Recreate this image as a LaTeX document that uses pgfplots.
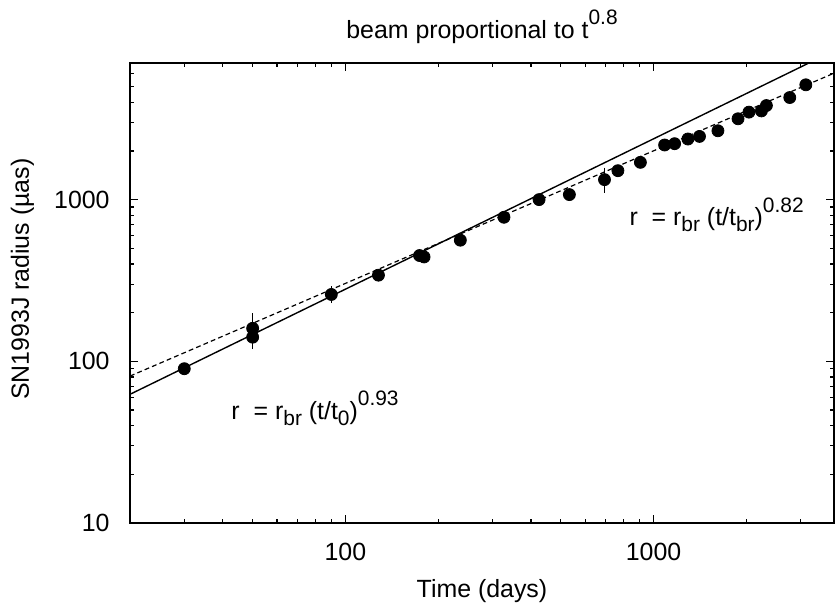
\documentclass[border=0pt]{standalone}
\usepackage{fontspec}
\setmainfont{Liberation Sans}
\usepackage{pgfplots}
\pgfplotsset{compat=1.18}

\newcommand{\lo}[1]{\raisebox{-0.45ex}{\fontsize{10.5}{12}\selectfont #1}}
\newcommand{\hi}[1]{\raisebox{1.0ex}{\fontsize{10.5}{12}\selectfont #1}}

\begin{document}
\begin{tikzpicture}
\begin{axis}[
  xmode=log, ymode=log,
  scale only axis, width=352bp, height=230bp,
  xmin=20, xmax=3850, ymin=10, ymax=7000,
  xtick={100,1000}, xticklabels={100,1000},
  ytick={10,100,1000}, yticklabels={10,100,1000},
  minor xtick={20,30,40,50,60,70,80,90,200,300,400,500,600,700,800,900,2000,3000},
  minor ytick={20,30,40,50,60,70,80,90,200,300,400,500,600,700,800,900,2000,3000,4000,5000,6000},
  major tick length=4bp, minor tick length=2bp,
  every tick/.style={black, line width=0.6bp},
  axis line style={line width=1bp},
  /pgf/number format/assume math mode=true,
  tick label style={font=\fontsize{12.5}{15}\selectfont},
  xticklabel style={anchor=base, yshift=-18.5bp},
  yticklabel style={anchor=east, inner sep=0pt, xshift=-10bp},
  label style={font=\fontsize{12.5}{15}\selectfont},
  xlabel={Time (days)},
  xlabel style={at={(axis description cs:0.5,-0.161)}, anchor=base},
  ylabel={SN1993J radius (µas)},
  ylabel style={at={(axis description cs:-0.1435,0.53)}, anchor=base, rotate=0},
  clip=true, clip mode=individual,
]
% fits
\addplot[black, line width=0.7bp] coordinates {(20,62.5) (3850,8330)};
\addplot[black, line width=0.6bp, dash pattern=on 2.4bp off 1.6bp] coordinates {(20,81) (3850,6053)};
% measurements
\addplot[only marks, mark=*, mark size=3bp, black] coordinates {
  (30,90) (128,341) (174,451) (180,442) (236,561) (327,778) (425,1000)
  (533,1074) (766,1510) (906,1700) (1086,2177) (1170,2218) (1292,2370)
  (1409,2460) (1617,2666) (1879,3162) (2039,3476) (2238,3537) (2323,3818)
  (2766,4279) (3119,5129)
};
\addplot[only marks, mark=*, mark size=3bp, black,
  error bars/.cd, y dir=both, y explicit,
  error bar style={line width=0.4bp},
  error mark options={mark size=1.5bp, line width=0.4bp}] coordinates {
  (50,160) +- (0,30)
  (50,141) +- (0,17)
  (90,259) +- (0,20)
  (693,1329) +- (0,180)
};
\node[anchor=base west, font=\fontsize{12.5}{15}\selectfont] at (axis cs:40.5,43.9)
  {r\ \ = r\lo{br} (t/t\lo{0})\hi{0.93}};
\node[anchor=base west, font=\fontsize{12.5}{15}\selectfont] at (axis cs:793,691)
  {r\ \ = r\lo{br} (t/t\lo{br})\hi{0.82}};
\node[anchor=base, font=\fontsize{12.5}{15}\selectfont] at (axis description cs:0.5,1.054)
  {beam proportional to t\hi{0.8}};
\end{axis}
\pgfresetboundingbox
\path[use as bounding box] (-65bp,-43bp) rectangle (353bp,261.5bp);
\end{tikzpicture}
\end{document}
